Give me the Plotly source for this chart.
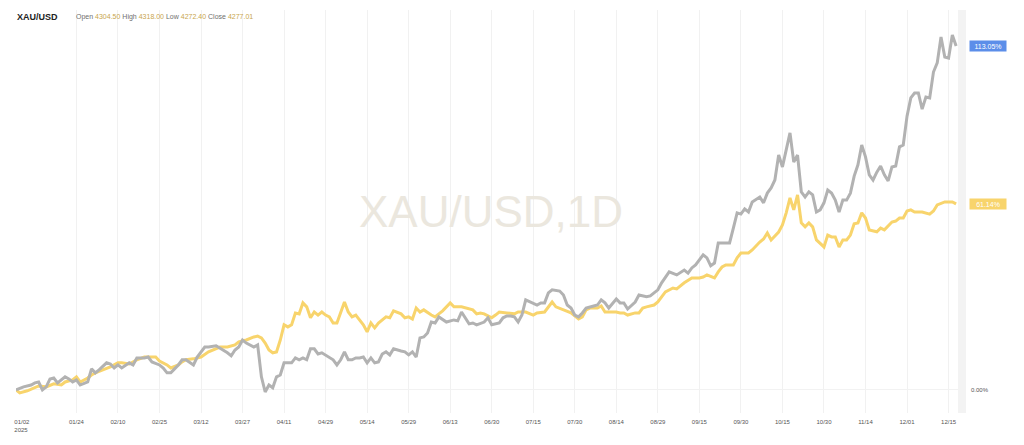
import plotly.graph_objects as go

# Trading-day index (0 = 2025-01-02) and % change from start
gray_idx = [0,2,4,5,6,7,8,9,10,11,13,14,15,16,17,19,20,21,22,24,25,26,27,28,30,31,32,34,35,36,38,39,40,41,42,43,44,45,47,48,
            50,51,53,54,56,57,58,59,60,61,62,63,64,65,66,67,68,69,70,71,73,74,75,76,77,78,79,80,81,83,84,85,86,87,88,89,90,91,92,93,
            94,95,96,97,98,99,100,102,103,104,105,106,107,108,109,110,111,112,113,114,116,117,118,119,120,121,122,124,125,126,127,128,129,130,
            131,132,133,134,135,137,138,139,140,141,142,144,145,146,147,148,149,150,151,153,154,155,156,157,159,160,161,162,163,164,165,167,168,169,
            170,171,172,173,175,177,178,179,180,182,183,184,185,186,187,189,190,191,192,193,194,195,197,198,199,200,201,202,203,204,205,206,207,208,
            209,210,211,212,213,214,215,216,217,218,219,220,221,222,223,224,225,226,227,228,229,230,231,232,233,234,235,236,237,238,239,240,241,242,
            243,244,245,246,247,248,249]
gray_pct = [0.0,1.0,1.6,2.3,2.6,0.0,1.0,3.6,3.9,2.3,4.3,3.6,2.6,3.3,1.6,2.6,6.9,5.6,6.6,8.9,8.5,7.2,8.2,7.2,8.9,8.2,10.5,10.5,10.8,9.2,8.2,7.2,5.6,5.6,6.9,8.2,9.9,9.9,8.2,10.8,
            14.1,14.1,14.5,13.8,12.2,11.2,13.1,14.1,16.4,15.4,14.8,14.1,14.8,4.3,-0.7,1.6,0.7,4.3,4.9,8.9,8.9,10.5,9.9,10.5,9.9,13.5,13.5,11.8,12.2,10.8,9.9,8.2,9.9,12.5,9.9,9.9,10.5,10.5,10.8,8.9,
            10.5,8.9,9.2,11.8,12.5,11.5,13.5,12.8,12.5,11.5,12.5,10.8,17.1,17.4,18.7,22.3,22.0,24.0,23.0,22.3,23.0,22.7,25.6,23.7,21.7,22.0,21.4,22.3,23.7,21.4,21.7,22.0,23.7,24.3,
            24.3,24.0,22.3,24.6,29.6,28.6,27.9,28.6,28.6,31.9,32.9,32.5,31.2,27.9,26.9,24.6,24.0,25.3,26.9,27.6,27.9,29.6,28.6,26.9,29.9,28.6,28.6,26.6,27.6,28.9,31.2,30.6,30.9,31.9,
            32.9,35.2,37.1,38.8,37.8,39.4,38.4,40.1,41.1,44.4,43.4,40.8,41.7,48.3,48.3,48.3,53.2,58.2,57.8,59.5,58.5,61.8,63.4,61.5,64.7,66.4,69.0,77.2,73.3,78.9,84.5,74.9,77.2,65.1,
            63.4,65.1,64.1,58.5,59.2,61.5,65.7,64.7,62.4,58.5,62.4,62.4,64.7,70.3,74.0,80.5,76.6,70.7,69.0,71.6,73.6,70.7,68.7,73.3,73.6,79.9,80.5,90.0,96.0,97.6,97.6,92.3,96.3,96.0,
            104.5,107.5,116.0,109.4,109.1,116.7,113.05]

gold_idx = [0,1,3,5,6,8,10,12,13,15,16,17,19,20,21,23,25,27,28,30,32,34,35,37,38,40,41,43,44,45,47,49,51,52,54,56,58,59,61,63,
            64,65,66,67,68,69,70,71,72,73,74,75,76,77,78,79,80,81,82,83,84,85,87,88,89,90,91,92,93,94,95,96,98,99,100,102,103,104,105,106,
            107,108,110,111,112,113,115,116,118,119,121,122,123,124,126,127,128,130,132,133,135,137,138,140,141,142,143,145,146,147,149,150,151,152,
            154,155,156,157,159,160,161,162,164,165,166,167,169,170,171,172,174,175,177,178,179,181,182,183,185,186,187,188,190,191,192,194,195,197,
            198,199,200,202,203,204,205,206,207,208,209,210,211,212,213,214,215,216,217,218,219,220,221,222,223,224,225,226,228,229,230,232,233,234,
            235,236,237,238,240,242,243,244,246,248,249]
gold_pct = [0.0,-1.0,-0.3,0.7,1.3,1.0,2.0,1.6,2.6,3.3,4.3,2.6,3.9,4.9,5.6,6.6,7.6,8.9,8.9,8.5,9.9,10.8,10.8,10.8,9.5,8.2,7.2,8.2,9.2,9.9,10.2,10.8,12.5,13.1,14.1,14.1,14.8,15.8,16.4,17.4,
            17.7,17.1,15.4,13.1,12.2,12.5,16.4,21.4,20.7,21.4,25.3,25.0,28.6,27.3,23.7,25.6,24.6,25.6,24.6,24.0,22.0,22.0,28.9,25.6,24.0,24.6,23.0,21.4,19.1,22.0,20.4,22.0,24.0,23.7,26.0,25.0,23.7,24.0,23.3,26.9,
            25.6,26.3,24.6,24.0,25.0,26.0,28.6,27.3,27.3,26.9,26.3,25.0,25.3,25.0,23.7,24.6,25.6,25.3,25.0,25.6,25.6,24.6,25.3,25.6,27.3,28.9,27.3,26.3,25.6,25.3,23.3,24.0,26.3,26.9,
            26.9,27.6,25.6,25.6,25.6,25.3,25.3,24.6,25.3,25.3,26.9,27.3,27.9,28.9,30.6,32.2,33.5,33.2,35.2,36.1,36.8,36.8,37.1,37.8,36.8,38.8,40.4,41.1,41.1,43.4,45.0,45.0,46.0,48.6,
            49.6,51.6,49.3,51.9,54.2,58.2,63.1,59.2,64.1,54.9,53.6,54.9,53.6,49.3,48.3,47.0,50.9,50.3,50.3,47.0,49.3,49.3,50.9,54.6,54.9,58.2,56.5,52.6,52.0,53.2,52.6,55.2,55.5,56.5,
            56.5,58.8,59.2,58.5,58.5,57.8,58.8,60.8,61.8,61.8,61.14]

tick_idx = [0,16,27,38,49,60,71,82,93,104,115,126,137,148,159,170,181,192,203,214,225,236,247]
tick_text = ["01/02","01/24","02/10","02/25","03/12","03/27","04/11","04/29","05/14","05/29","06/13","06/30",
             "07/15","07/30","08/14","08/29","09/15","09/30","10/15","10/30","11/14","12/01","12/15"]
year_label = "2025"

symbol = "XAU/USD"
ohlc_names = ["Open", "High", "Low", "Close"]
ohlc_values = ["4304.50", "4318.00", "4272.40", "4277.01"]
watermark = "XAU/USD,1D"

GRAY = "#b2b2b2"
GOLD = "#f8d46c"
FONT = "Liberation Sans, Arial, sans-serif"

fig = go.Figure()
fig.add_trace(go.Scatter(x=gold_idx, y=gold_pct, mode="lines",
                         line=dict(color=GOLD, width=3), hoverinfo="skip"))
fig.add_trace(go.Scatter(x=gray_idx, y=gray_pct, mode="lines",
                         line=dict(color=GRAY, width=3), hoverinfo="skip"))

nb = "\u00a0"
ticktext = [nb * 7 + tick_text[0] + "<br>" + nb * 6 + year_label] + tick_text[1:]

fig.update_layout(
    width=1024, height=445,
    margin=dict(l=16, r=66, t=10, b=32, autoexpand=False),
    paper_bgcolor="white", plot_bgcolor="white",
    showlegend=False,
    font=dict(family=FONT, size=6, color="#555555"),
    xaxis=dict(range=[0, 249.5], tickmode="array", tickvals=tick_idx, ticktext=ticktext,
               showgrid=True, gridcolor="#f1f1f1", gridwidth=1, zeroline=False, automargin=False,
               ticklabeloverflow="allow", ticklabelstandoff=4,
               showline=False, ticks="", tickfont=dict(size=6, color="#555555"), fixedrange=True),
    yaxis=dict(range=[-7.6, 124.9], showgrid=False, zeroline=True, zerolinecolor="#f2f2f2",
               zerolinewidth=1, showticklabels=False, showline=False, automargin=False, fixedrange=True),
)

# right-side strip
fig.add_shape(type="rect", xref="paper", yref="paper", x0=1.0, x1=1.0 + 8 / 942, y0=0, y1=1,
              fillcolor="#f3f3f3", line=dict(width=0), layer="below")

# watermark
fig.add_annotation(text=watermark, xref="paper", yref="paper", x=0.504, y=0.501,
                   showarrow=False, font=dict(size=44, color="#ebe7de", family=FONT))

# header
fig.add_annotation(text="<b>" + symbol + "</b>", xref="paper", yref="paper", x=-0.001, y=0.983,
                   xanchor="left", yanchor="middle", showarrow=False,
                   font=dict(size=9, color="#222222", family=FONT))
parts = []
for n, v in zip(ohlc_names, ohlc_values):
    parts.append("<span style='color:#6f6f6f'>" + n + "</span> <span style='color:#c9a64e'>" + v + "</span>")
fig.add_annotation(text=" ".join(parts), xref="paper", yref="paper", x=(74 - 16) / 942, y=0.983,
                   xanchor="left", yanchor="middle", showarrow=False,
                   font=dict(size=7, family=FONT))

# right-side price labels
fig.add_annotation(text=f"{gray_pct[-1]:.2f}%", xref="paper", yref="y", x=1.0, y=gray_pct[-1],
                   xanchor="left", yanchor="middle", xshift=11, showarrow=False,
                   bgcolor="#5c8ee9", width=34, height=8, borderpad=1,
                   font=dict(size=7, color="white", family=FONT))
fig.add_annotation(text=f"{gold_pct[-1]:.2f}%", xref="paper", yref="y", x=1.0, y=gold_pct[-1],
                   xanchor="left", yanchor="middle", xshift=11, showarrow=False,
                   bgcolor=GOLD, width=34, height=8, borderpad=1,
                   font=dict(size=7, color="white", family=FONT))
fig.add_annotation(text="0.00%", xref="paper", yref="y", x=1.0, y=0,
                   xanchor="left", yanchor="middle", xshift=11, showarrow=False,
                   font=dict(size=6, color="#555555", family=FONT))

# remove the default page margin so the figure fills the window exactly
fig.write_html("out.html", config={"displayModeBar": False},
               post_script="document.body.style.margin='0px';")
